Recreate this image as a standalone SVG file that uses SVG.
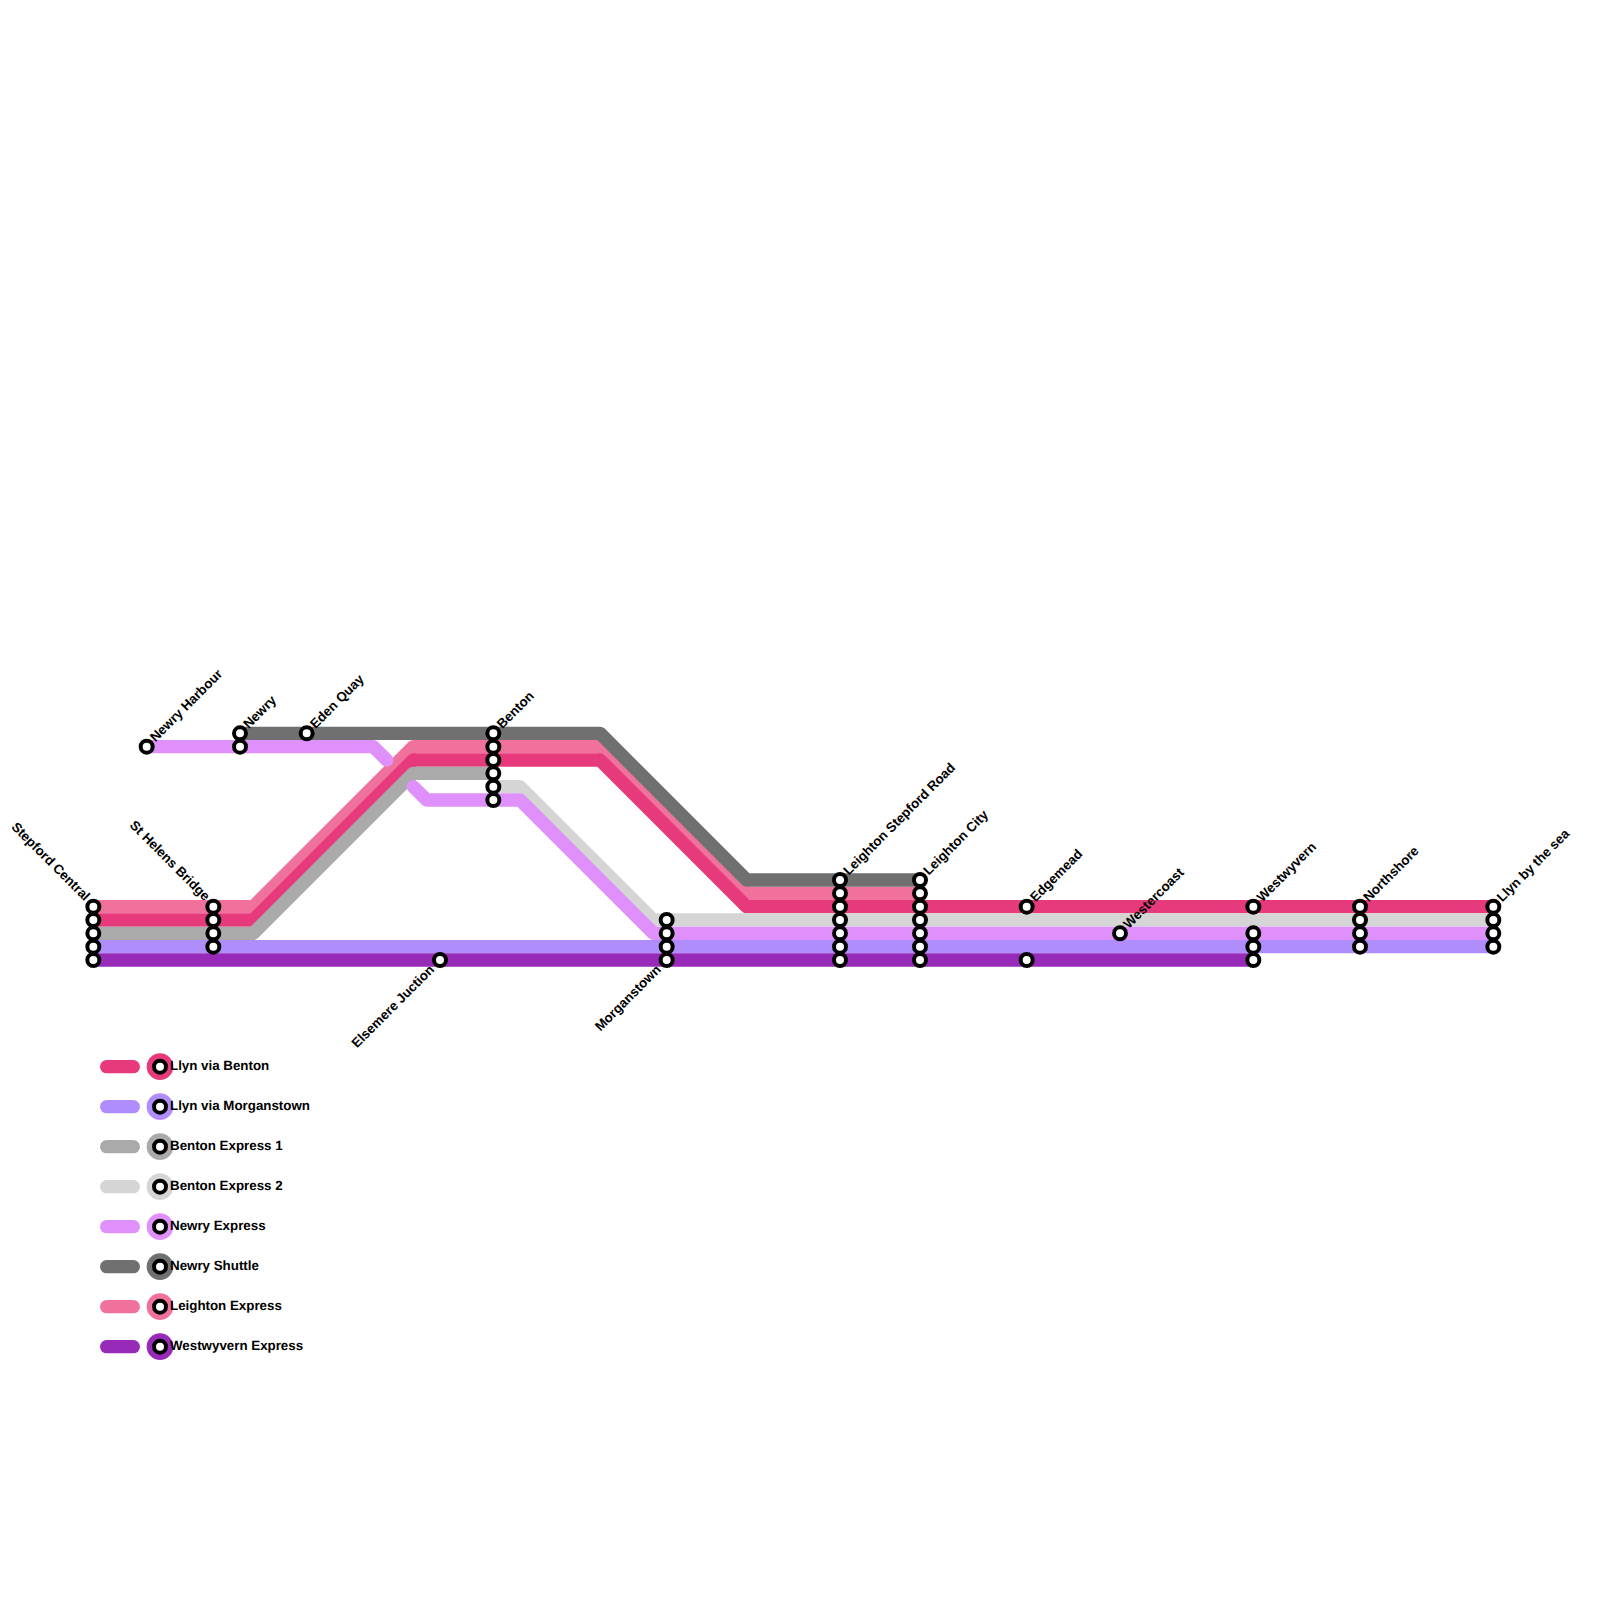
<svg xmlns="http://www.w3.org/2000/svg" width="1600" height="1600" viewBox="0 0 1600 1600">
<style>
.l{fill:none;stroke-width:13.33;stroke-linecap:round;stroke-linejoin:round}
.a{stroke:#e63a7c}.b{stroke:#b08dfd}.c{stroke:#aaaaaa}.d{stroke:#d5d5d5}.e{stroke:#e090fb}.f{stroke:#707070}.g{stroke:#f0719c}.h{stroke:#982ab9}
.s{fill:#fff;stroke:#000;stroke-width:4}
text{font-family:"Liberation Sans",Arial,sans-serif;font-size:13.33px;font-weight:700;fill:#000;text-rendering:geometricPrecision}
.e2{text-anchor:end}
</style>
<defs><circle id="st" r="6" class="s"/></defs>
<rect width="1600" height="1600" fill="#fff"/>
<g id="connectors">
<path class="l g" d="M93.33 906.67H253.33L413.33 746.67H600L746.67 893.33H920"/>
<path class="l a" d="M93.33 920H253.33L413.33 760H600L746.67 906.67H1493.33"/>
<path class="l c" d="M93.33 933.33H253.33L413.33 773.33H493.33"/>
<path class="l d" d="M493.33 786.67H520L653.33 920H1493.33"/>
<path class="l f" d="M240 733.33H600L746.67 880H920"/>
<path class="l e" d="M146.67 746.67H373.33L386.67 760"/>
<path class="l e" d="M413.33 786.67L426.67 800H520L653.33 933.33H1493.33"/>
<path class="l b" d="M93.33 946.67H1493.33"/>
<path class="l h" d="M93.33 960H1253.33"/>
</g>
<g id="stepford-central"><use href="#st" x="93.33" y="906.67"/><use href="#st" x="93.33" y="920"/><use href="#st" x="93.33" y="933.33"/><use href="#st" x="93.33" y="946.67"/><use href="#st" x="93.33" y="960"/><text class="e2" transform="translate(84.5 901.5) rotate(45)">Stepford Central</text></g>
<g id="st-helens-bridge"><use href="#st" x="213.33" y="906.67"/><use href="#st" x="213.33" y="920"/><use href="#st" x="213.33" y="933.33"/><use href="#st" x="213.33" y="946.67"/><text class="e2" transform="translate(204.5 901.5) rotate(45)">St Helens Bridge</text></g>
<g id="newry-harbour"><use href="#st" x="146.67" y="746.67"/><text transform="translate(155.5 742.5) rotate(-45)">Newry Harbour</text></g>
<g id="newry"><use href="#st" x="240" y="733.33"/><use href="#st" x="240" y="746.67"/><text transform="translate(248.8 729.2) rotate(-45)">Newry</text></g>
<g id="eden-quay"><use href="#st" x="306.67" y="733.33"/><text transform="translate(315.5 729.2) rotate(-45)">Eden Quay</text></g>
<g id="benton"><use href="#st" x="493.33" y="733.33"/><use href="#st" x="493.33" y="746.67"/><use href="#st" x="493.33" y="760"/><use href="#st" x="493.33" y="773.33"/><use href="#st" x="493.33" y="786.67"/><use href="#st" x="493.33" y="800"/><text transform="translate(502.2 729.2) rotate(-45)">Benton</text></g>
<g id="elsemere-juction"><use href="#st" x="440" y="960"/><text class="e2" transform="translate(435 970.5) rotate(-45)">Elsemere Juction</text></g>
<g id="morganstown"><use href="#st" x="666.67" y="920"/><use href="#st" x="666.67" y="933.33"/><use href="#st" x="666.67" y="946.67"/><use href="#st" x="666.67" y="960"/><text class="e2" transform="translate(661.7 970.5) rotate(-45)">Morganstown</text></g>
<g id="leighton-stepford-road"><use href="#st" x="840" y="880"/><use href="#st" x="840" y="893.33"/><use href="#st" x="840" y="906.67"/><use href="#st" x="840" y="920"/><use href="#st" x="840" y="933.33"/><use href="#st" x="840" y="946.67"/><use href="#st" x="840" y="960"/><text transform="translate(848.8 875.8) rotate(-45)">Leighton Stepford Road</text></g>
<g id="leighton-city"><use href="#st" x="920" y="880"/><use href="#st" x="920" y="893.33"/><use href="#st" x="920" y="906.67"/><use href="#st" x="920" y="920"/><use href="#st" x="920" y="933.33"/><use href="#st" x="920" y="946.67"/><use href="#st" x="920" y="960"/><text transform="translate(928.8 875.8) rotate(-45)">Leighton City</text></g>
<g id="edgemead"><use href="#st" x="1026.67" y="906.67"/><use href="#st" x="1026.67" y="960"/><text transform="translate(1035.5 902.5) rotate(-45)">Edgemead</text></g>
<g id="westercoast"><use href="#st" x="1120" y="933.33"/><text transform="translate(1128.8 929.2) rotate(-45)">Westercoast</text></g>
<g id="westwyvern"><use href="#st" x="1253.33" y="906.67"/><use href="#st" x="1253.33" y="933.33"/><use href="#st" x="1253.33" y="946.67"/><use href="#st" x="1253.33" y="960"/><text transform="translate(1262.2 902.5) rotate(-45)">Westwyvern</text></g>
<g id="northshore"><use href="#st" x="1360" y="906.67"/><use href="#st" x="1360" y="920"/><use href="#st" x="1360" y="933.33"/><use href="#st" x="1360" y="946.67"/><text transform="translate(1368.8 902.5) rotate(-45)">Northshore</text></g>
<g id="llyn-by-the-sea"><use href="#st" x="1493.33" y="906.67"/><use href="#st" x="1493.33" y="920"/><use href="#st" x="1493.33" y="933.33"/><use href="#st" x="1493.33" y="946.67"/><text transform="translate(1502.2 902.5) rotate(-45)">Llyn by the sea</text></g>
<g id="legend-llyn-via-benton"><path class="l a" d="M106.67 1066.67H133.33"/><circle cx="160" cy="1066.67" r="13.33" fill="#e63a7c"/><use href="#st" x="160" y="1066.67"/><text x="170" y="1069.7">Llyn via Benton</text></g>
<g id="legend-llyn-via-morganstown"><path class="l b" d="M106.67 1106.67H133.33"/><circle cx="160" cy="1106.67" r="13.33" fill="#b08dfd"/><use href="#st" x="160" y="1106.67"/><text x="170" y="1109.7">Llyn via Morganstown</text></g>
<g id="legend-benton-express-1"><path class="l c" d="M106.67 1146.67H133.33"/><circle cx="160" cy="1146.67" r="13.33" fill="#aaaaaa"/><use href="#st" x="160" y="1146.67"/><text x="170" y="1149.7">Benton Express 1</text></g>
<g id="legend-benton-express-2"><path class="l d" d="M106.67 1186.67H133.33"/><circle cx="160" cy="1186.67" r="13.33" fill="#d5d5d5"/><use href="#st" x="160" y="1186.67"/><text x="170" y="1189.7">Benton Express 2</text></g>
<g id="legend-newry-express"><path class="l e" d="M106.67 1226.67H133.33"/><circle cx="160" cy="1226.67" r="13.33" fill="#e090fb"/><use href="#st" x="160" y="1226.67"/><text x="170" y="1229.7">Newry Express</text></g>
<g id="legend-newry-shuttle"><path class="l f" d="M106.67 1266.67H133.33"/><circle cx="160" cy="1266.67" r="13.33" fill="#707070"/><use href="#st" x="160" y="1266.67"/><text x="170" y="1269.7">Newry Shuttle</text></g>
<g id="legend-leighton-express"><path class="l g" d="M106.67 1306.67H133.33"/><circle cx="160" cy="1306.67" r="13.33" fill="#f0719c"/><use href="#st" x="160" y="1306.67"/><text x="170" y="1309.7">Leighton Express</text></g>
<g id="legend-westwyvern-express"><path class="l h" d="M106.67 1346.67H133.33"/><circle cx="160" cy="1346.67" r="13.33" fill="#982ab9"/><use href="#st" x="160" y="1346.67"/><text x="170" y="1349.7">Westwyvern Express</text></g>
</svg>
